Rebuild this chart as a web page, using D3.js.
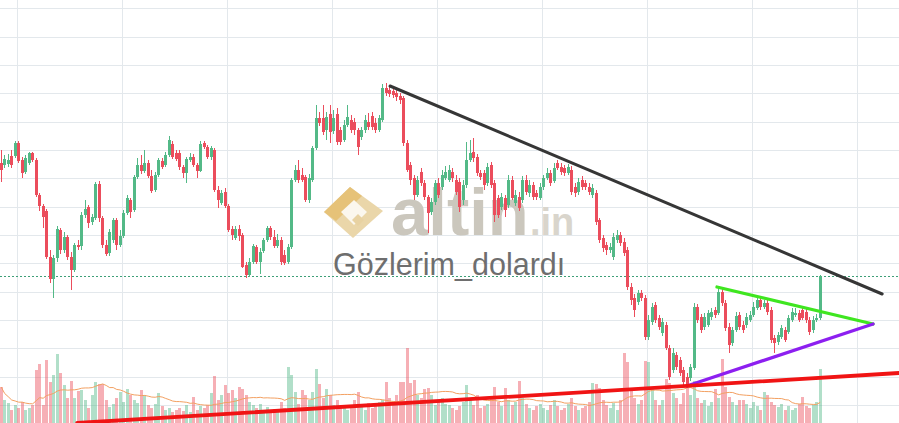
<!DOCTYPE html>
<html><head><meta charset="utf-8">
<script src="https://cdn.jsdelivr.net/npm/d3@7"></script>
<style>html,body{margin:0;padding:0;background:#fff;overflow:hidden}</style>
</head><body><svg id="c" width="899" height="423"></svg>
<script>
// Prices in kuruş (TRY x100), one entry per candle
const open=[837,835,836,844,844,857,840,828,837,847,
840,805,794,789,743,721,742,770,750,763,
743,730,755,754,785,793,778,782,816,782,
755,747,760,780,755,764,787,800,790,823,
835,829,837,824,810,825,839,835,845,856,
847,847,833,827,840,843,835,829,857,853,
843,850,810,797,808,794,771,762,771,765,
735,725,738,753,738,749,760,772,763,754,
760,745,738,753,820,830,825,823,800,820,
852,882,882,870,886,869,886,870,860,875,
880,878,870,863,870,878,884,877,870,880,
912,910,909,907,904,902,857,835,822,805,
828,817,803,788,798,817,813,822,820,828,
820,818,800,815,840,848,843,827,827,817,
835,817,802,793,802,795,820,797,803,800,
820,807,815,807,802,813,822,827,819,837,
833,832,827,830,813,808,820,817,813,805,
807,780,762,755,750,743,760,765,758,750,
713,702,698,707,702,663,678,695,682,667,
675,652,630,645,640,630,623,622,632,693,
683,673,675,683,690,687,708,697,673,657,
670,685,675,675,680,685,692,700,693,697,
690,662,658,663,670,668,680,685,687,690,
688,680,670,680,682];
const close=[830,841,840,835,857,839,827,842,847,840,
805,794,783,743,721,742,771,750,763,743,
730,755,753,785,791,777,783,816,782,755,
746,768,780,755,764,787,802,788,823,835,
829,837,824,809,825,840,833,845,860,843,
841,833,827,841,843,835,829,856,853,843,
852,810,800,807,794,770,765,771,764,733,
725,738,754,738,748,760,772,763,754,760,
738,737,753,820,830,820,820,800,822,852,
882,877,868,883,868,882,858,858,875,883,
870,870,853,870,880,873,873,870,882,912,
907,906,905,903,900,857,830,820,805,820,
817,803,787,798,817,805,825,828,830,822,
808,793,815,840,847,842,827,823,815,833,
815,785,785,803,790,820,802,805,792,820,
808,815,803,803,813,822,827,817,832,832,
828,827,833,808,807,818,813,813,808,812,
778,760,752,750,753,763,765,757,747,713,
700,690,707,702,663,680,693,680,673,678,
652,623,647,633,627,618,614,633,693,680,
670,683,687,688,685,708,697,672,655,670,
684,673,670,683,685,693,700,693,697,688,
660,657,665,672,660,682,688,687,680,682,
680,668,680,682,724];
const high=[850,845,846,850,859,859,843,845,848,848,
842,807,796,791,750,745,774,772,768,765,
748,757,760,788,800,795,786,818,819,784,
760,771,782,782,770,790,805,802,825,842,
845,850,840,830,828,842,842,848,864,859,
850,850,835,843,847,846,837,859,859,855,
854,852,814,810,812,796,774,774,775,767,
738,742,756,755,752,762,774,774,770,766,
763,750,756,822,835,840,832,825,826,854,
895,888,895,888,895,890,892,873,880,895,
885,882,872,873,885,887,888,882,885,916,
917,914,912,910,907,904,860,838,825,824,
832,820,805,802,820,822,830,834,835,832,
825,822,820,858,860,862,846,830,830,837,
838,820,805,807,805,825,824,810,808,824,
825,820,818,810,817,825,832,830,837,840,
837,835,836,834,817,822,824,820,817,816,
810,782,765,758,757,767,770,768,762,753,
717,706,710,710,705,685,697,698,685,682,
678,655,652,648,643,633,627,636,697,696,
686,687,690,692,693,713,713,700,677,673,
688,688,679,687,689,698,704,703,700,700,
693,665,668,675,673,685,692,692,690,694,
692,683,684,686,725];
const low=[818,832,833,832,842,837,822,826,835,838,
803,789,772,741,717,702,738,746,747,740,
710,728,750,750,782,772,775,780,778,752,
744,744,757,750,753,762,785,782,788,821,
826,827,822,807,808,823,831,833,843,841,
839,830,822,817,838,833,822,828,851,841,
840,808,792,795,792,768,760,760,759,732,
722,723,736,736,726,747,758,760,752,752,
735,735,736,751,818,817,818,798,797,818,
850,874,865,860,857,866,855,855,858,873,
867,865,845,860,867,870,870,867,868,878,
904,903,902,899,896,854,828,815,800,803,
814,800,767,785,795,802,810,820,818,818,
805,788,795,812,838,838,824,820,810,814,
812,778,782,790,783,792,800,794,789,797,
805,803,800,800,800,810,820,814,817,830,
825,824,825,805,803,805,810,810,805,802,
775,757,748,745,747,740,757,754,744,710,
695,683,695,699,660,660,675,677,670,664,
650,620,627,630,624,615,612,619,630,677,
667,670,673,680,682,685,694,669,647,654,
668,670,667,672,678,683,690,690,691,685,
657,647,655,661,658,666,678,683,678,680,
677,665,667,678,680];
const volume=[43,30,27,20,25,22,28,20,22,25,
60,66,25,70,48,55,76,57,45,32,
49,32,39,40,30,22,35,48,46,46,
30,23,26,32,38,28,41,35,30,27,
40,35,25,22,26,37,24,20,22,18,
20,22,19,25,18,33,20,24,22,25,
37,54,30,35,45,37,40,32,43,41,
35,28,25,22,26,20,23,20,21,20,
28,22,63,55,38,26,40,35,30,38,
61,46,32,41,35,25,30,22,24,20,
25,30,38,24,20,27,22,25,28,30,
48,32,25,35,48,48,82,47,50,35,
32,41,42,35,25,30,32,26,25,22,
20,24,28,45,30,25,35,22,24,26,
32,43,28,24,42,30,25,28,49,32,
26,22,20,24,26,22,20,25,30,24,
20,22,26,32,24,20,22,24,28,47,
46,42,30,25,22,27,20,30,77,68,
40,32,26,30,69,68,42,30,25,30,
51,47,37,32,26,37,47,35,49,32,
27,30,24,28,41,32,71,43,33,28,
25,30,30,26,22,28,24,20,38,35,
28,25,23,26,20,24,20,22,26,33,
24,22,25,28,61];
// Trend lines drawn by the author: [candle index, price] pairs
const trendNames=["resistance","triangleTop","triangleBottom","support"];
const trendStart=[[111.1,914],[204.5,713],[195.9,614],[21.7,577]];
const trendEnd=[[251.7,706],[249.1,676],[249.1,676],[256.5,627]];
const maPeriod=20;

const W=899,H=423;
const UP="#53b987",DOWN="#eb4d5c";
const trendStyle={resistance:{c:"#363636",w:3},triangleTop:{c:"#3fe620",w:3.2},triangleBottom:{c:"#8d1ff0",w:3.2},support:{c:"#f01414",w:3.8}};

const svg=d3.select("#c");
const n=close.length;
const x=d3.scaleLinear().domain([0,n-1]).range([1.2,820.2]);
const y=d3.scaleLinear().domain([577,1000]).range([H,0]);
const yv=d3.scaleLinear().domain([0,100]).range([430,330]);
const bw=3;
const data=d3.range(n).map(i=>({i,o:open[i],c:close[i],h:high[i],l:low[i],v:volume[i],up:close[i]>=open[i]}));
const px=i=>Math.round(x(i)-bw/2);

// grid
const g0=svg.append("g").attr("shape-rendering","crispEdges");
g0.selectAll("line.h").data(d3.range(991.5,570,-28.333)).join("line")
 .attr("x1",0).attr("x2",W).attr("y1",d=>Math.round(y(d))+0.5).attr("y2",d=>Math.round(y(d))+0.5)
 .attr("stroke","#e3e8ec").attr("stroke-width",1);
g0.selectAll("line.v").data(d3.range(4.43,260,30)).join("line")
 .attr("y1",0).attr("y2",H).attr("x1",d=>Math.round(x(d))+0.5).attr("x2",d=>Math.round(x(d))+0.5)
 .attr("stroke","#e3e8ec").attr("stroke-width",1);

// watermark
const wm=svg.append("g").attr("transform","translate(324,187)");
wm.append("path").attr("d","M26,0 L59,24 L29,51 L0,25 Z").attr("fill","#ead6a9");
wm.append("path").attr("d","M26,0 L38,9 L12,34 L0,25 Z").attr("fill","#e6c278");
wm.append("path").attr("d","M30,13 L43,25 L30,38 L17,25 Z").attr("fill","#fbf7ee");
wm.append("path").attr("d","M34,27 L40,33 L34,39 L28,33 Z").attr("fill","#e8d2a2");
svg.append("text").attr("x",391).attr("y",235).text("altin")
 .attr("font-family","Liberation Sans, Arial, sans-serif").attr("font-weight","bold")
 .attr("font-size",67).attr("fill","#cbc7bd");
svg.append("text").attr("x",530).attr("y",235).text(".in")
 .attr("font-family","Liberation Sans, Arial, sans-serif").attr("font-weight","bold")
 .attr("font-size",38).attr("fill","#d9d5cc");
svg.append("text").attr("x",333).attr("y",275).text("Gözlerim_dolardı")
 .attr("font-family","Liberation Sans, Arial, sans-serif")
 .attr("font-size",30.5).attr("fill","#6e6e6e");

// volume
svg.append("g").attr("shape-rendering","crispEdges").selectAll("rect").data(data).join("rect")
 .attr("x",d=>px(d.i)).attr("width",bw-0.5)
 .attr("y",d=>yv(d.v)).attr("height",d=>yv(0)-yv(d.v))
 .attr("fill",d=>d.up?UP:DOWN).attr("fill-opacity",0.45);
// volume moving average
const ma=data.map(d=>({i:d.i,v:d3.mean(volume.slice(Math.max(0,d.i-maPeriod+1),d.i+1))}));
svg.append("path").datum(ma)
 .attr("d",d3.line().x(d=>x(d.i)).y(d=>yv(d.v)))
 .attr("fill","none").attr("stroke","#f3a061").attr("stroke-width",1);

// last price dotted line
svg.append("line").attr("x1",0).attr("x2",W)
 .attr("y1",Math.round(y(close[n-1]))+0.5).attr("y2",Math.round(y(close[n-1]))+0.5)
 .attr("stroke","#3e9f78").attr("stroke-width",1).attr("stroke-dasharray","2,2");

// candles
const cg=svg.append("g").attr("shape-rendering","crispEdges");
cg.selectAll("line").data(data).join("line")
 .attr("x1",d=>px(d.i)+1.5).attr("x2",d=>px(d.i)+1.5)
 .attr("y1",d=>y(d.h)).attr("y2",d=>y(d.l))
 .attr("stroke",d=>d.up?UP:DOWN).attr("stroke-width",1);
cg.selectAll("rect").data(data).join("rect")
 .attr("x",d=>px(d.i)).attr("width",bw)
 .attr("y",d=>y(Math.max(d.o,d.c))).attr("height",d=>Math.max(1,Math.abs(y(d.o)-y(d.c))))
 .attr("fill",d=>d.up?UP:DOWN);

// trend lines
const tl=trendNames.map((k,j)=>({k,a:trendStart[j],b:trendEnd[j]}));
svg.append("g").selectAll("line").data(tl).join("line")
 .attr("x1",d=>x(d.a[0])).attr("y1",d=>y(d.a[1]))
 .attr("x2",d=>x(d.b[0])).attr("y2",d=>y(d.b[1]))
 .attr("stroke",d=>trendStyle[d.k].c).attr("stroke-width",d=>trendStyle[d.k].w)
 .attr("stroke-linecap","round");
</script></body></html>
